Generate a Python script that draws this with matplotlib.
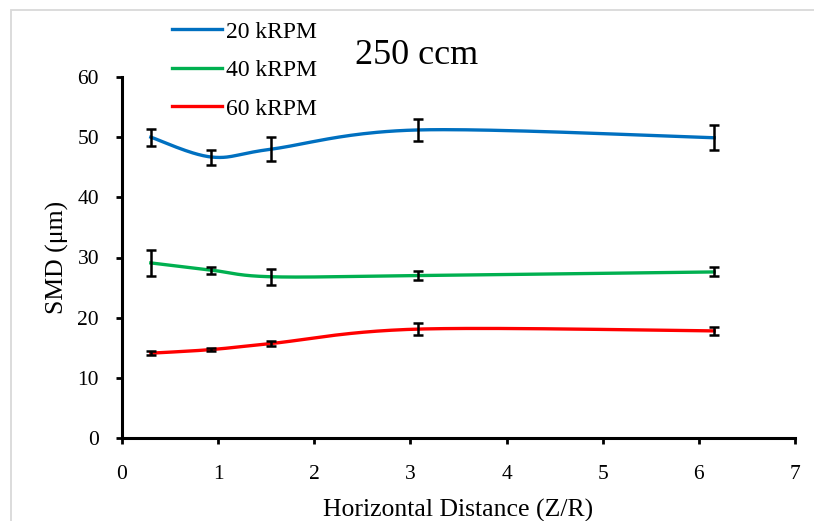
import matplotlib
matplotlib.use("Agg")
import matplotlib.pyplot as plt
import numpy as np

plt.rcParams['font.family'] = ['Liberation Serif', 'DejaVu Serif']

# data
z_r = [0.30, 0.93, 1.55, 3.08, 6.16]

smd_20 = [50.0, 46.7, 48.0, 51.2, 49.9]
err_20 = [1.4, 1.25, 2.0, 1.85, 2.1]

smd_40 = [29.1, 27.9, 26.8, 27.0, 27.6]
err_40 = [2.1, 0.6, 1.35, 0.7, 0.75]

smd_60 = [14.1, 14.7, 15.7, 18.1, 17.8]
err_60 = [0.3, 0.3, 0.4, 1.05, 0.6]

labels = ["20 kRPM", "40 kRPM", "60 kRPM"]
colors = ["#0070C0", "#00B050", "#FF0000"]


def excel_smooth(x, y, n=40):
    # Excel-style smoothed line: cubic Bezier through the points
    pts = np.column_stack([x, y]).astype(float)
    P = np.vstack([pts[0], pts, pts[-1]])
    out = []
    t = np.linspace(0, 1, n)[:, None]
    for i in range(len(pts) - 1):
        p0, p1, p2, p3 = P[i], P[i + 1], P[i + 2], P[i + 3]
        c1 = p1 + (p2 - p0) / 6.
        c2 = p2 - (p3 - p1) / 6.
        seg = (1 - t)**3 * p1 + 3 * (1 - t)**2 * t * c1 + 3 * (1 - t) * t**2 * c2 + t**3 * p2
        out.append(seg if i == 0 else seg[1:])
    out = np.vstack(out)
    return out[:, 0], out[:, 1]


fig = plt.figure(figsize=(8.14, 5.21), dpi=100)
ax = fig.add_axes([122/814, 83/521, 673/814, 361/521])

# light grey frame around the chart area
fig.add_artist(plt.Rectangle((11/814, -0.05), 1.2, 1 - 10/521 + 0.05,
                             transform=fig.transFigure, facecolor='none',
                             edgecolor='#d9d9d9', linewidth=1.3))

series = [(smd_20, err_20), (smd_40, err_40), (smd_60, err_60)]
for (y, e), lab, c in zip(series, labels, colors):
    sx, sy = excel_smooth(z_r, y)
    ax.plot(sx, sy, color=c, linewidth=2.4, label=lab, zorder=2)
    ax.errorbar(z_r, y, yerr=e, fmt='none', ecolor='black', elinewidth=1.8,
                capsize=3.8, capthick=1.8, zorder=3)

ax.set_xlim(0, 7)
ax.set_ylim(0, 60)
ax.set_xticks(range(0, 8))
ax.set_yticks(range(0, 61, 10))

for s in ['top', 'right']:
    ax.spines[s].set_visible(False)
for s in ['left', 'bottom']:
    ax.spines[s].set_linewidth(2.2)

ax.tick_params(axis='both', direction='out', length=4.5, width=2.0,
               labelsize=15.5)
ax.tick_params(axis='y', pad=12)
ax.tick_params(axis='x', pad=15)

ax.set_xlabel("Horizontal Distance (Z/R)", fontsize=18.5, labelpad=11)
ax.set_ylabel("SMD (μm)", fontsize=18.5, labelpad=6)

fig.text(417/814, 1 - 55/521, "250 ccm", fontsize=26, ha='center', va='center')

fig.legend(loc='upper left', bbox_to_anchor=(172/814, 1 - 21/521),
           frameon=False, fontsize=17, handlelength=2.1, handletextpad=0.2,
           labelspacing=0.72, borderpad=0, borderaxespad=0)

fig.savefig("out.png", dpi=100)
